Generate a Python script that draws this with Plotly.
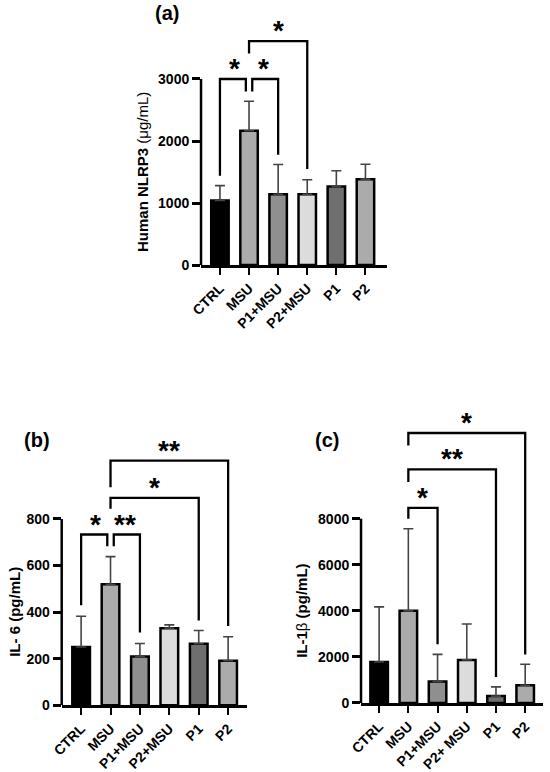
import plotly.graph_objects as go

# Group names (panel c writes "P2+ MSU")
groups_ab = ["CTRL", "MSU", "P1+MSU", "P2+MSU", "P1", "P2"]
groups_c = ["CTRL", "MSU", "P1+MSU", "P2+ MSU", "P1", "P2"]
bar_colors = ["#000000", "#ababab", "#8f8f8f", "#dcdcdc", "#6f6f6f", "#ababab"]

# (a) Human NLRP3 (ug/mL): mean and top of the error bar
nlrp3_mean = [1040, 2165, 1140, 1140, 1265, 1385]
nlrp3_top = [1280, 2640, 1620, 1375, 1520, 1625]
nlrp3_ticks = [0, 1000, 2000, 3000]

# (b) IL-6 (pg/mL)
il6_mean = [250, 519, 209, 331, 264, 191]
il6_top = [382, 638, 265, 345, 321, 294]
il6_ticks = [0, 200, 400, 600, 800]

# (c) IL-1b (pg/mL)
il1b_mean = [1780, 4000, 930, 1870, 300, 770]
il1b_top = [4170, 7560, 2110, 3430, 700, 1680]
il1b_ticks = [0, 2000, 4000, 6000, 8000]

# significance brackets: (left group, right group, bracket level, left leg end, right leg end, stars)
nlrp3_sig = [(0, 1, 3000, 1440, 2800, "*"),
             (1, 2, 3000, 2800, 1780, "*"),
             (1, 3, 3610, 3410, 1550, "*")]
il6_sig = [(0, 1, 733, 429, 683, "*"),
           (1, 2, 733, 683, 312, "**"),
           (1, 4, 890, 843, 364, "*"),
           (1, 5, 1050, 936, 340, "**")]
il1b_sig = [(1, 2, 8470, 8000, 2545, "*"),
            (1, 4, 10140, 9590, 1130, "**"),
            (1, 5, 11720, 11180, 2110, "*")]

FONT = "Arial, Liberation Sans, sans-serif"

panels = [
    dict(key="", groups=groups_ab, mean=nlrp3_mean, top=nlrp3_top, ticks=nlrp3_ticks,
         sig=nlrp3_sig, title="<b>Human NLRP3</b> (μg/mL)", tshift=-59,
         xdom=[0.3655, 0.7036], xr=[-0.65, 5.74], ydom=[0.6567, 0.974], yr=[0, 3950],
         label="(a)", lx=0.3036, ly=0.983),
    dict(key="2", groups=groups_ab, mean=il6_mean, top=il6_top, ticks=il6_ticks,
         sig=il6_sig, title="<b>IL- 6 (pg/mL)</b>", tshift=-48,
         xdom=[0.1122, 0.449], xr=[-0.66, 5.64], ydom=[0.0864, 0.4335], yr=[0, 1150],
         label="(b)", lx=0.0673, ly=0.430),
    dict(key="3", groups=groups_c, mean=il1b_mean, top=il1b_top, ticks=il1b_ticks,
         sig=il1b_sig, title="<b>IL-1</b>β <b>(pg/mL)</b>", tshift=-59,
         xdom=[0.6564, 0.9873], xr=[-0.62, 5.61], ydom=[0.0894, 0.4684], yr=[0, 12700],
         label="(c)", lx=0.5945, ly=0.430),
]

fig = go.Figure()
shapes = []
annotations = []
layout = {}

for p in panels:
    k = p["key"]
    xa, ya = "x" + k, "y" + k
    xpos = list(range(len(p["groups"])))

    fig.add_trace(go.Bar(
        x=xpos, y=p["mean"], width=0.6, xaxis=xa, yaxis=ya,
        marker=dict(color=bar_colors, line=dict(color="black", width=2.5)),
        error_y=dict(type="data", symmetric=False,
                     array=[t - m for t, m in zip(p["top"], p["mean"])],
                     arrayminus=[0] * len(xpos),
                     color="#444444", thickness=1.6, width=5),
        showlegend=False, hoverinfo="skip",
    ))

    # brackets, legs shifted apart where two brackets share a group
    for i, j, lvl, yl, yr_, stars in p["sig"]:
        shared = [s for s in p["sig"] if s[2] == lvl]
        xl, xr = float(i), float(j)
        if len(shared) > 1:
            if any(s[1] == i for s in shared):
                xl += 0.11
            if any(s[0] == j for s in shared):
                xr -= 0.11
        fig.add_trace(go.Scatter(
            x=[xl, xl, xr, xr], y=[yl, lvl, lvl, yr_], mode="lines",
            line=dict(color="black", width=2.3), xaxis=xa, yaxis=ya,
            showlegend=False, hoverinfo="skip",
        ))
        annotations.append(dict(
            x=(i + j) / 2, y=lvl, xref=xa, yref=ya, text=stars, showarrow=False,
            yanchor="bottom", yshift=-7,
            font=dict(family=FONT, size=28, color="black", weight="bold"),
        ))

    # y axis line stops at the highest tick
    shapes.append(dict(
        type="line", xref=xa + " domain", yref=ya, x0=0, x1=0,
        y0=0, y1=p["ticks"][-1], line=dict(color="black", width=2.5), layer="above",
    ))

    # y title centred on the drawn part of the axis
    annotations.append(dict(
        x=0, y=p["ticks"][-1] / 2, xref=xa + " domain", yref=ya, text=p["title"],
        textangle=-90, showarrow=False, xanchor="center", yanchor="middle",
        xshift=p["tshift"],
        font=dict(family=FONT, size=15, color="black"),
    ))

    annotations.append(dict(
        x=p["lx"], y=p["ly"], xref="paper", yref="paper", text=p["label"],
        showarrow=False, xanchor="center", yanchor="middle",
        font=dict(family=FONT, size=20, color="black", weight="bold"),
    ))

    layout["xaxis" + k] = dict(
        domain=p["xdom"], range=p["xr"], anchor=ya, automargin=False,
        tickmode="array", tickvals=xpos, ticktext=p["groups"], tickangle=-45,
        showline=True, linecolor="black", linewidth=2.5,
        ticks="outside", ticklen=7, tickwidth=2, tickcolor="black",
        showgrid=False, zeroline=False,
        tickfont=dict(family=FONT, size=14, color="black", weight="bold"),
    )
    layout["yaxis" + k] = dict(
        domain=p["ydom"], range=p["yr"], anchor=xa, automargin=False,
        tickmode="array", tickvals=p["ticks"],
        showline=False, ticks="outside", ticklen=8, tickwidth=2.5, tickcolor="black",
        showgrid=False, zeroline=False,
        tickfont=dict(family=FONT, size=14, color="black", weight="bold"),
    )

fig.update_layout(
    width=550, height=772,
    margin=dict(l=0, r=0, t=0, b=0),
    paper_bgcolor="white", plot_bgcolor="white",
    shapes=shapes, annotations=annotations,
    **layout,
)

# drop the browser's default page margin so the figure fills the window
fig.write_html("out.html", config={"displayModeBar": False},
               post_script="document.body.style.margin='0';")
